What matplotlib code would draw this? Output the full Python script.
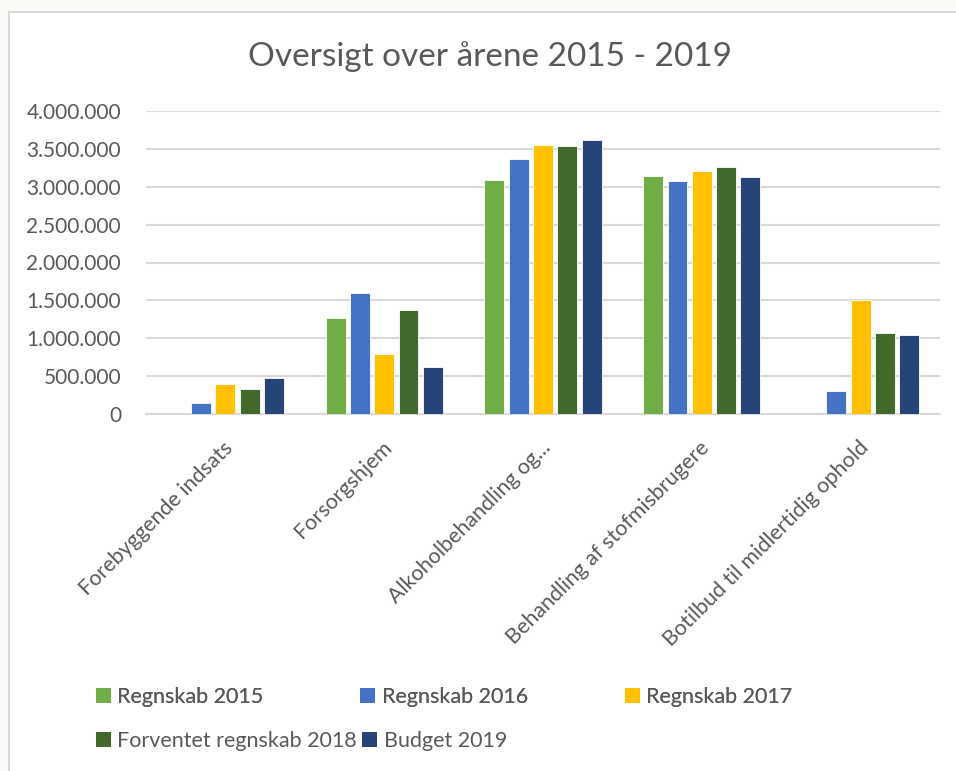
import numpy as np
import matplotlib.pyplot as plt
from matplotlib.patches import Patch, Rectangle
from matplotlib.ticker import FuncFormatter, MultipleLocator

# Data
categories = ["Forebyggende indsats", "Forsorgshjem", "Alkoholbehandling og...",
              "Behandling af stofmisbrugere", "Botilbud til midlertidig ophold"]
series_names = ["Regnskab 2015", "Regnskab 2016", "Regnskab 2017",
                "Forventet regnskab 2018", "Budget 2019"]
regnskab_2015 = [0, 1272000, 3085000, 3138000, 0]
regnskab_2016 = [141000, 1593000, 3362000, 3080000, 308000]
regnskab_2017 = [400000, 788000, 3551000, 3208000, 1501000]
forventet_2018 = [334000, 1373000, 3534000, 3256000, 1069000]
budget_2019 = [471000, 616000, 3622000, 3129000, 1038000]
colors = ["#70AD47", "#4472C4", "#FFC000", "#43682B", "#264478"]

values = [regnskab_2015, regnskab_2016, regnskab_2017, forventet_2018, budget_2019]

plt.rcParams['font.family'] = ['Lato', 'DejaVu Sans']
text_color = "#595959"
grid_color = "#D9D9D9"

fig = plt.figure(figsize=(9.56, 7.71), dpi=100)
fig.patch.set_facecolor("#FCFAF7")
# chart frame
frame = Rectangle((9 / 956, -0.01), 1.0, 1 - 12 / 771 + 0.01,
                  transform=fig.transFigure, facecolor="white",
                  edgecolor=grid_color, linewidth=1.5, zorder=-5)
fig.add_artist(frame)

ax = fig.add_axes([146 / 956, 1 - 414 / 771, (940 - 146) / 956, (414 - 111) / 771])
ax.set_facecolor("white")

x = np.arange(len(categories))
step = 0.153
for i, (name, vals) in enumerate(zip(series_names, values)):
    ax.bar(x + (i - 2) * step, vals, width=0.125, color=colors[i],
           edgecolor="white", linewidth=0.6, label=name, zorder=3)

ax.set_xlim(-0.5, len(categories) - 0.5)
ax.set_ylim(0, 4000000)
ax.yaxis.set_major_locator(MultipleLocator(500000))
ax.yaxis.set_major_formatter(FuncFormatter(lambda v, p: f"{int(v):,}".replace(",", ".")))
ax.grid(axis="y", color=grid_color, linewidth=1.5, zorder=0)
ax.set_axisbelow(True)
for s in ["top", "right", "left"]:
    ax.spines[s].set_visible(False)
ax.spines["bottom"].set_color(grid_color)
ax.spines["bottom"].set_linewidth(1.5)
ax.tick_params(axis="both", length=0, colors=text_color)
ax.tick_params(axis="y", pad=18, labelsize=15)

ax.set_xticks(x + 0.03)
ax.set_xticklabels(categories, rotation=45, ha="right", va="center",
                   rotation_mode="anchor", color=text_color, fontsize=15.5)
ax.tick_params(axis="x", pad=22)

fig.text(490 / 956, 1 - 57 / 771, "Oversigt over årene 2015 - 2019",
         ha="center", va="center", fontsize=24, color=text_color)

# Legend: two rows, like Excel
handles = [Patch(facecolor=c) for c in colors]
leg_kw = dict(loc="center left", frameon=False, fontsize=15.5, labelcolor=text_color,
              handlelength=0.7, handleheight=0.7, handletextpad=0.3, borderpad=0)
leg1 = fig.legend(handles[:3], series_names[:3], ncol=3,
                  bbox_to_anchor=(85 / 956, 1 - 697 / 771), columnspacing=4.5, **leg_kw)
leg2 = fig.legend(handles[3:], series_names[3:], ncol=2,
                  bbox_to_anchor=(85 / 956, 1 - 741 / 771), columnspacing=0.25, **leg_kw)
fig.add_artist(leg1)

fig.savefig("out.png", dpi=100, facecolor=fig.get_facecolor())
